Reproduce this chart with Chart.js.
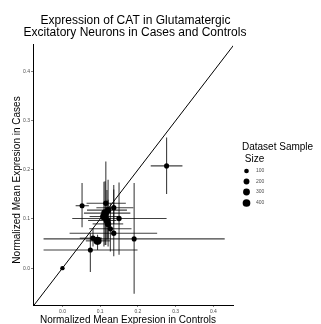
<!DOCTYPE html>
<html>
<head>
<meta charset="utf-8">
<script src="https://cdn.jsdelivr.net/npm/chart.js@4"></script>
<style>
  html, body { margin: 0; padding: 0; background: #fff; }
  #wrap { position: relative; width: 321px; height: 324px; }
</style>
</head>
<body>
<div id="wrap"><canvas id="chart"></canvas></div>
<script>
// mean expression in controls (x) and cases (y), with interval ends and dataset sample size
const xMean = [0.000, 0.276, 0.052, 0.115, 0.136, 0.150, 0.113, 0.110, 0.118, 0.121, 0.121, 0.127, 0.136, 0.190, 0.093, 0.081, 0.074];
const yMean = [0.000, 0.208, 0.127, 0.132, 0.123, 0.101, 0.112, 0.105, 0.097, 0.090, 0.118, 0.080, 0.071, 0.0595, 0.0555, 0.061, 0.037];
const xLow  = [0.000, 0.234, 0.035, 0.064, 0.090, 0.026, 0.057, 0.072, 0.068, 0.080, 0.065, 0.071, 0.019, -0.050, 0.062, 0.046, -0.050];
const xHigh = [0.000, 0.318, 0.070, 0.168, 0.188, 0.276, 0.180, 0.152, 0.143, 0.161, 0.171, 0.183, 0.251, 0.430, 0.126, 0.105, 0.199];
const yLow  = [0.000, 0.151, 0.083, 0.047, 0.090, 0.027, 0.047, 0.044, 0.058, 0.044, 0.060, 0.034, 0.024, -0.052, 0.037, 0.044, -0.008];
const yHigh = [0.000, 0.266, 0.173, 0.217, 0.160, 0.174, 0.177, 0.176, 0.159, 0.139, 0.180, 0.132, 0.169, 0.173, 0.068, 0.081, 0.071];
const sampleSize = [80, 130, 130, 150, 150, 150, 400, 400, 300, 250, 250, 150, 150, 130, 470, 150, 130];

const axisTicks = [0.0, 0.1, 0.2, 0.3, 0.4];
const legendSizes = [100, 200, 300, 400];

const titleLines = ['Expression of CAT in Glutamatergic', 'Excitatory Neurons in Cases and Controls'];
const xTitle = 'Normalized Mean Expresion in Controls';
const yTitle = 'Normalized Mean Expresion in Cases';
const legendTitle = ['Dataset Sample', ' Size'];

const FONT = "'Liberation Sans', Arial, sans-serif";

// area scale for point size
function sizeRadius(n) {
    return Math.sqrt(2.4 + 0.031 * n);
}

const points = xMean.map((x, i) => ({ x: x, y: yMean[i] }));

const extrasPlugin = {
    id: 'extras',
    beforeDatasetsDraw(chart) {
        const ctx = chart.ctx;
        const xs = chart.scales.x;
        const ys = chart.scales.y;
        const area = chart.chartArea;
        ctx.save();
        ctx.beginPath();
        ctx.rect(area.left, area.top, area.right - area.left, area.bottom - area.top);
        ctx.clip();
        ctx.strokeStyle = 'rgba(0,0,0,0.75)';
        ctx.lineWidth = 1.1;
        for (let i = 0; i < xMean.length; i++) {
            if (xHigh[i] > xLow[i]) {
                const py = ys.getPixelForValue(yMean[i]);
                ctx.beginPath();
                ctx.moveTo(xs.getPixelForValue(xLow[i]), py);
                ctx.lineTo(xs.getPixelForValue(xHigh[i]), py);
                ctx.stroke();
            }
            if (yHigh[i] > yLow[i]) {
                const px = xs.getPixelForValue(xMean[i]);
                ctx.beginPath();
                ctx.moveTo(px, ys.getPixelForValue(yLow[i]));
                ctx.lineTo(px, ys.getPixelForValue(yHigh[i]));
                ctx.stroke();
            }
        }
        ctx.restore();
    },
    afterDraw(chart) {
        const ctx = chart.ctx;
        ctx.save();
        ctx.fillStyle = '#000';
        ctx.textAlign = 'center';
        ctx.textBaseline = 'middle';

        // title
        ctx.font = '12px ' + FONT;
        ctx.fillText(titleLines[0], 135.5, 21);
        ctx.fillText(titleLines[1], 135, 33);

        // axis titles
        ctx.font = '10px ' + FONT;
        ctx.fillText(xTitle, 128, 320);
        ctx.save();
        ctx.translate(17, 180);
        ctx.rotate(-Math.PI / 2);
        ctx.fillText(yTitle, 0, 0);
        ctx.restore();

        // size legend
        ctx.textAlign = 'left';
        ctx.font = '10px ' + FONT;
        ctx.fillText(legendTitle[0], 242, 147);
        ctx.fillText(legendTitle[1], 242, 159);
        const rowY = [171, 181.5, 192, 203];
        legendSizes.forEach((n, i) => {
            ctx.fillStyle = '#000';
            ctx.beginPath();
            ctx.arc(246.5, rowY[i], sizeRadius(n), 0, Math.PI * 2);
            ctx.fill();
            ctx.fillStyle = '#4d4d4d';
            ctx.font = '5px ' + FONT;
            ctx.fillText(String(n), 256, rowY[i]);
        });
        ctx.restore();
    }
};

const ctx = document.getElementById('chart').getContext('2d');
new Chart(ctx, {
    type: 'scatter',
    data: {
        datasets: [
            {
                label: 'datasets',
                data: points,
                pointRadius: sampleSize.map(sizeRadius),
                pointHoverRadius: sampleSize.map(sizeRadius),
                backgroundColor: '#000',
                borderColor: '#000',
                borderWidth: 0,
                order: 0
            },
            {
                label: 'y = x',
                type: 'line',
                data: [{ x: -0.1, y: -0.1 }, { x: 0.5, y: 0.5 }],
                borderColor: '#000',
                borderWidth: 1,
                pointRadius: 0,
                fill: false,
                order: 1
            }
        ]
    },
    options: {
        responsive: true,
        maintainAspectRatio: false,
        animation: false,
        devicePixelRatio: 1,
        layout: { padding: { left: 0, top: 44, right: 88, bottom: 0 } },
        plugins: {
            legend: { display: false },
            title: { display: false },
            tooltip: { enabled: false }
        },
        scales: {
            x: {
                type: 'linear',
                min: -0.078,
                max: 0.452,
                afterFit: function (scale) { scale.height = 19; },
                afterBuildTicks: function (scale) {
                    scale.ticks = axisTicks.map(v => ({ value: v }));
                },
                ticks: {
                    font: { size: 5, family: FONT },
                    color: '#4d4d4d',
                    padding: 2,
                    maxRotation: 0,
                    callback: v => v.toFixed(1)
                },
                grid: { drawOnChartArea: false, tickLength: 2, color: '#333', tickWidth: 0.6 },
                border: { display: true, color: '#000', width: 1 }
            },
            y: {
                type: 'linear',
                min: -0.075,
                max: 0.456,
                afterFit: function (scale) { scale.width = 33; },
                afterBuildTicks: function (scale) {
                    scale.ticks = axisTicks.map(v => ({ value: v }));
                },
                ticks: {
                    font: { size: 5, family: FONT },
                    color: '#4d4d4d',
                    padding: 1,
                    callback: v => v.toFixed(1)
                },
                grid: { drawOnChartArea: false, tickLength: 2, color: '#333', tickWidth: 0.6 },
                border: { display: true, color: '#000', width: 1 }
            }
        }
    },
    plugins: [extrasPlugin]
});
</script>
</body>
</html>
